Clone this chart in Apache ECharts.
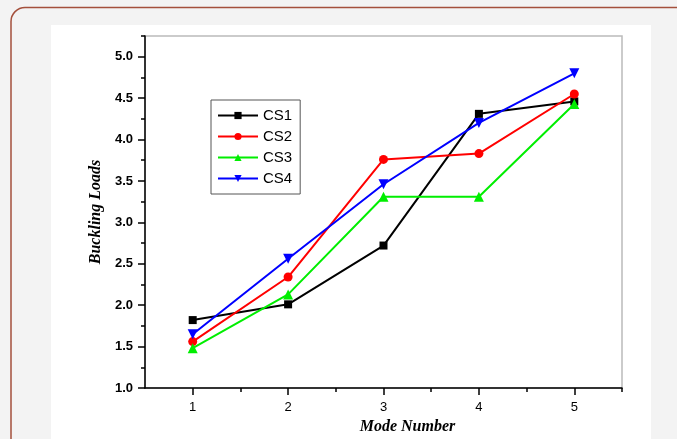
<!DOCTYPE html>
<html>
<head>
<meta charset="utf-8">
<script src="https://cdn.jsdelivr.net/npm/echarts@6/dist/echarts.min.js"></script>
<style>
  html, body { margin: 0; padding: 0; background: #f3f3f3; }
  #chart { width: 677px; height: 439px; }
</style>
</head>
<body>
<div id="chart"></div>
<script>
var modes = [1, 2, 3, 4, 5]
var cs1 = [1.82, 2.01, 2.72, 4.31, 4.46]
var cs2 = [1.56, 2.34, 3.76, 3.83, 4.55]
var cs3 = [1.48, 2.13, 3.31, 3.31, 4.43]
var cs4 = [1.65, 2.56, 3.46, 4.20, 4.80]
var yMajor = [1.0, 1.5, 2.0, 2.5, 3.0, 3.5, 4.0, 4.5, 5.0]
var yMinor = [1.25, 1.75, 2.25, 2.75, 3.25, 3.75, 4.25, 4.75, 5.25]
var xMinor = [1.5, 2.5, 3.5, 4.5, 5.5]

function pairs(vals) {
  return modes.map(function (m, i) { return [m, vals[i]] })
}

var chart = echarts.init(document.getElementById('chart'), null, { renderer: 'canvas' })

var axisFont = 'Liberation Sans, Arial, sans-serif'
var nameFont = 'Liberation Serif, Times New Roman, serif'

function makeSeries(name, vals, color, symbol, size, rotate) {
  return {
    name: name,
    type: 'line',
    data: pairs(vals),
    xAxisIndex: 0,
    yAxisIndex: 0,
    symbol: symbol,
    symbolSize: size,
    symbolRotate: rotate || 0,
    lineStyle: { color: color, width: 2 },
    itemStyle: { color: color },
    emphasis: { disabled: true },
    animation: false
  }
}

var option = {
  backgroundColor: '#f3f3f3',
  animation: false,
  graphic: [
    {
      type: 'rect',
      z: -10,
      shape: { x: 11, y: 7.5, width: 720, height: 500, r: 14 },
      style: { fill: '#f3f3f3', stroke: '#a4503c', lineWidth: 1.5 }
    },
    {
      type: 'rect',
      z: -9,
      shape: { x: 51, y: 25, width: 600, height: 420 },
      style: { fill: '#ffffff' }
    }
  ],
  grid: {
    left: 145,
    right: 55,
    top: 36,
    bottom: 51,
    outerBoundsMode: 'none',
    containLabel: false,
    show: true,
    backgroundColor: '#ffffff',
    borderColor: '#bbbbbb',
    borderWidth: 1.5
  },
  legend: {
    orient: 'vertical',
    left: 211,
    top: 100,
    padding: [8, 8, 8, 6],
    itemWidth: 40,
    itemHeight: 9,
    itemGap: 6,
    borderColor: '#555555',
    borderWidth: 1,
    backgroundColor: '#ffffff',
    textStyle: { fontFamily: axisFont, fontSize: 15, color: '#000', lineHeight: 15 },
    data: ['CS1', 'CS2', 'CS3', 'CS4']
  },
  xAxis: [
    {
      type: 'value',
      min: 0.5,
      max: 5.5,
      position: 'bottom',
      name: 'Mode Number',
      nameLocation: 'middle',
      nameGap: 30,
      nameTextStyle: {
        fontFamily: nameFont, fontStyle: 'italic', fontWeight: 'bold',
        fontSize: 16, color: '#000', padding: [0, 0, 0, 48]
      },
      axisLine: { show: true, onZero: false, lineStyle: { color: '#000', width: 1.5 } },
      axisTick: { show: true, inside: false, length: 7, customValues: modes, lineStyle: { color: '#000', width: 1.5 } },
      axisLabel: {
        customValues: modes, margin: 13, inside: false,
        fontFamily: axisFont, fontSize: 13, color: '#000'
      },
      splitLine: { show: false }
    },
    {
      type: 'value',
      min: 0.5,
      max: 5.5,
      position: 'bottom',
      axisLine: { show: false, onZero: false },
      axisTick: { show: true, inside: false, length: 4, customValues: xMinor, lineStyle: { color: '#000', width: 1.5 } },
      axisLabel: { show: false },
      splitLine: { show: false }
    }
  ],
  yAxis: [
    {
      type: 'value',
      min: 1,
      max: 5.25,
      position: 'left',
      name: 'Buckling Loads',
      nameLocation: 'middle',
      nameGap: 35,
      nameTextStyle: {
        fontFamily: nameFont, fontStyle: 'italic', fontWeight: 'bold',
        fontSize: 16, color: '#000'
      },
      axisLine: { show: true, onZero: false, lineStyle: { color: '#000', width: 1.5 } },
      axisTick: { show: true, inside: false, length: 7, customValues: yMajor, lineStyle: { color: '#000', width: 1.5 } },
      axisLabel: {
        customValues: yMajor, margin: 12, inside: false,
        fontFamily: axisFont, fontSize: 13, fontWeight: 'bold', color: '#000',
        formatter: function (v) { return v.toFixed(1) }
      },
      splitLine: { show: false }
    },
    {
      type: 'value',
      min: 1,
      max: 5.25,
      position: 'left',
      axisLine: { show: false, onZero: false },
      axisTick: { show: true, inside: false, length: 4, customValues: yMinor, lineStyle: { color: '#000', width: 1.5 } },
      axisLabel: { show: false },
      splitLine: { show: false }
    }
  ],
  series: [
    makeSeries('CS1', cs1, '#000000', 'rect', 8),
    makeSeries('CS2', cs2, '#ff0000', 'circle', 9),
    makeSeries('CS3', cs3, '#00ee00', 'triangle', 10),
    makeSeries('CS4', cs4, '#0000ff', 'triangle', 10, 180)
  ]
}

chart.setOption(option)
</script>
</body>
</html>
